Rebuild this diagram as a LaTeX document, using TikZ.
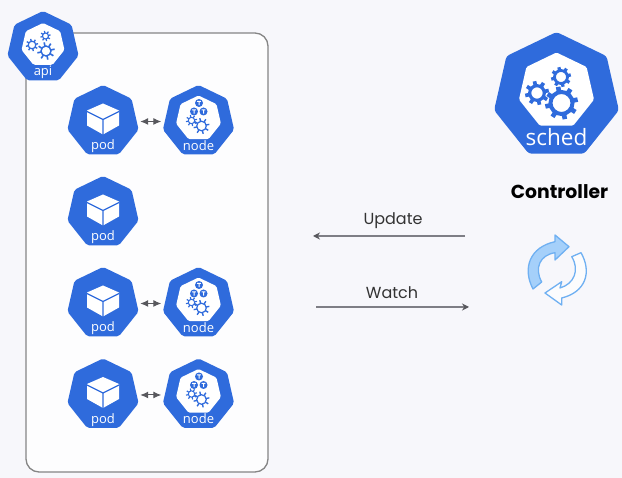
\documentclass[tikz,border=0pt]{standalone}
\usepackage{fontspec}
\setmainfont{Open Sans}
\newfontfamily\uifont{Poppins}
\usetikzlibrary{shapes.geometric,arrows.meta,calc}
\definecolor{kblue}{HTML}{2F6BDC}
\definecolor{pagebg}{HTML}{F7F7FB}
\definecolor{framegray}{HTML}{858585}
\definecolor{linegray}{HTML}{7E7E85}
\definecolor{syncfill}{HTML}{A5D0FA}
\definecolor{syncedge}{HTML}{6FB0F2}
\tikzset{
  x=1pt,y=-1pt,
  hepta/.style={regular polygon,regular polygon sides=7,inner sep=0pt,outer sep=0pt,draw=none},
  kouter/.style={hepta,fill=kblue,rounded corners=2pt},
  kinner/.style={hepta,fill=white,rounded corners=1.5pt},
  klabel/.style={text=white,inner sep=0pt,anchor=base,font=\fontsize{13}{15}\selectfont},
  flow/.style={draw=linegray,line width=1.1pt,-{Stealth[length=7pt,width=7pt,color=linegray!70!black]}},
  link/.style={draw=linegray!70!black,line width=1pt,{Latex[length=8pt,width=7pt]}-{Latex[length=8pt,width=7pt]},shorten <=3.5pt,shorten >=3.5pt},
  flowlabel/.style={font=\uifont\fontsize{16}{18}\selectfont,text=black!80,inner sep=0pt},
}
% gear: x y ring-radius ring-width tooth-radius
\newcommand\kgear[5]{%
  \draw[kblue,line width=#4pt] (#1,#2) circle[radius=#3pt];
  \foreach \a in {0,45,...,315}{\draw[kblue,line width=#4*1.15pt] ($(#1,#2)+(\a+12:#3pt)$) -- ($(#1,#2)+(\a+12:#5pt)$);}
}
% pod body
\newcommand\kcube[2]{%
  \fill[white] (#1-16,#2-8) -- (#1,#2-15) -- (#1+16,#2-8) -- (#1+16,#2+7) -- (#1,#2+16) -- (#1-16,#2+7) -- cycle;
  \draw[kblue,line width=1.2pt] (#1-16,#2-7) -- (#1,#2+1) -- (#1+16,#2-7) (#1,#2+1) -- (#1,#2+17);
}
\newcommand\ktee[2]{%
  \fill[kblue] (#1,#2) circle[radius=4pt];
  \fill[white] (#1-1.8,#2-2) rectangle (#1+1.8,#2-1) (#1-.5,#2-2) rectangle (#1+.5,#2+2.2);
}
\newcommand\kpod[4]{% name x y label
  \node[kouter,minimum size=73pt] (#1) at (#2,#3) {};
  \kcube{#2}{#3-3}
  \node[klabel] (#1t) at (#2,#3+28.5) {#4};
}
\newcommand\knode[3]{% name x y
  \node[kouter,minimum size=73pt] (#1) at (#2,#3) {};
  \node[kinner,minimum size=46pt] (#1i) at (#2,#3-3) {};
  \ktee{#2+.5}{#3-18.5}
  \ktee{#2-4.5}{#3-10}
  \ktee{#2+5}{#3-10}
  \kgear{#2-7}{#3-1}{3.2}{1}{5.6}
  \kgear{#2+3}{#3+4.5}{4.8}{1.2}{8}
  \node[klabel] (#1t) at (#2,#3+29) {node};
}
\begin{document}
\begin{tikzpicture}
\useasboundingbox (0,0) rectangle (622,478);
\fill[pagebg] (0,0) rectangle (622,478);
% frame
\node[draw=framegray,fill=white!70!pagebg,line width=1.3pt,rounded corners=13pt,minimum width=242pt,minimum height=439pt,inner sep=0pt] (frame) at (147,252.5) {};
% api
\node[kouter,minimum size=73pt] (api) at (43,47.5) {};
\node[kinner,minimum size=44pt] (apii) at (43,45) {};
\kgear{32}{45}{3.8}{1.2}{6.2}
\kgear{45.5}{36}{3}{1.1}{5.2}
\kgear{46}{51}{5}{1.4}{8.8}
\node[klabel] (apit) at (43,75.5) {api};
% pods and nodes
\kpod{pod1}{103}{121.5}{pod}
\knode{node1}{198.5}{121.5}
\kpod{pod2}{103}{212.5}{pod}
\kpod{pod3}{103}{303.5}{pod}
\knode{node3}{198.5}{303.5}
\kpod{pod4}{103}{395}{pod}
\knode{node4}{198.5}{395}
\draw[link] (pod1) -- (node1);
\draw[link] (pod3) -- (node3);
\draw[link] (pod4) -- (node4);
% sched
\node[kouter,minimum size=128pt,rounded corners=3pt] (sched) at (556.5,96) {};
\node[kinner,minimum size=77pt] (schedi) at (556.5,91) {};
\kgear{537}{93}{7.3}{3.2}{12}
\kgear{561}{77}{6.5}{2.8}{10}
\kgear{561.5}{103}{11}{4}{16.5}
\node[klabel,font=\fontsize{22.5}{26}\selectfont] (schedt) at (556.5,146) {sched};
% controller
\node[font=\uifont\bfseries\fontsize{18.8}{22}\selectfont,text=black,inner sep=0pt] (ctrl) at (559.5,192) {Controller};
% sync icon
\path[fill=syncfill,draw=syncedge,line width=1.3pt,line join=round]
  (533,289) .. controls (522,268) and (530,247) .. (555,241.7)
  -- (555,235) -- (569,246.7) -- (555,260)
  -- (555,252.7) .. controls (540,255) and (534,268) .. (541.7,282) -- cycle;
\path[fill=white!60!pagebg,draw=syncedge,line width=1.3pt,line join=round]
  (581,252.7) .. controls (592,272) and (586,292) .. (561.7,298)
  -- (561.7,305) -- (545,293) -- (561.7,281.7)
  -- (560,288) .. controls (574,284) and (580,270) .. (571.7,256.7) -- cycle;
% flows
\coordinate (updS) at (465,236);
\coordinate (updE) at (313,236);
\coordinate (watS) at (316,307);
\coordinate (watE) at (469,307);
\draw[flow] (updS) -- (updE);
\draw[flow] (watS) -- (watE);
\node[flowlabel] (upd) at (393,220.5) {Update};
\node[flowlabel] (wat) at (392,292.5) {Watch};
\end{tikzpicture}
\end{document}
